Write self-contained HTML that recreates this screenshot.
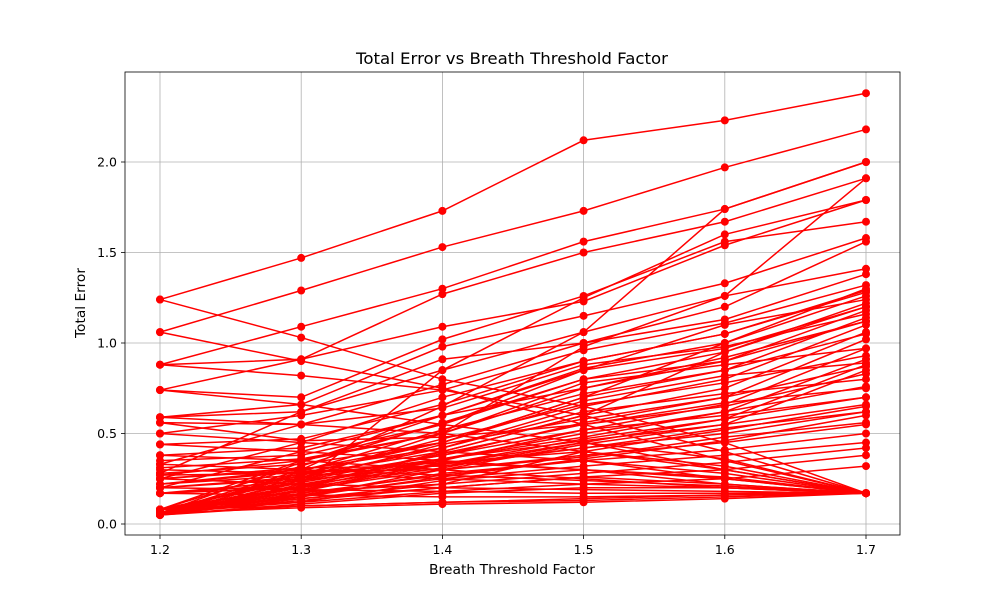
<!DOCTYPE html>
<html><head><meta charset="utf-8"><style>
body{margin:0;background:#fff;font-family:"DejaVu Sans","Liberation Sans",sans-serif;}
</style></head><body>
<svg id="chart" width="1000" height="600" xmlns="http://www.w3.org/2000/svg"></svg>
<script>
const categories=[1.2,1.3,1.4,1.5,1.6,1.7];
const xTickLabels=["1.2","1.3","1.4","1.5","1.6","1.7"];
const yTicks=[0,0.5,1,1.5,2];
const yTickLabels=["0.0","0.5","1.0","1.5","2.0"];
const s01=[1.24,1.47,1.73,2.12,2.23,2.38];
const s02=[1.06,1.29,1.53,1.73,1.97,2.18];
const s03=[0.88,1.09,1.30,1.56,1.74,2.00];
const s04=[0.88,0.91,1.27,1.50,1.67,1.91];
const s05=[0.74,0.91,1.09,1.23,1.54,1.79];
const s06=[1.24,1.03,0.80,0.65,0.45,0.17];
const s07=[1.06,0.90,0.75,0.55,0.35,0.17];
const s08=[0.74,0.70,1.02,1.26,1.56,1.67];
const s09=[0.59,0.66,0.98,1.15,1.33,1.58];
const s10=[0.59,0.62,0.85,1.06,1.26,1.41];
const s11=[0.56,0.55,0.77,1.00,1.13,1.38];
const s12=[0.50,0.60,0.74,0.96,1.11,1.32];
const s13=[0.44,0.47,0.66,0.90,1.05,1.29];
const s14=[0.38,0.42,0.60,0.86,1.00,1.26];
const s15=[0.35,0.38,0.55,0.80,0.95,1.22];
const s16=[0.31,0.36,0.50,0.75,0.90,1.18];
const s17=[0.28,0.33,0.45,0.70,0.85,1.14];
const s18=[0.25,0.30,0.42,0.65,0.80,1.10];
const s19=[0.22,0.27,0.40,0.60,0.75,1.06];
const s20=[0.20,0.25,0.38,0.56,0.70,1.02];
const s21=[0.17,0.22,0.35,0.52,0.66,0.97];
const s22=[0.08,0.20,0.36,0.50,0.62,0.91];
const s23=[0.06,0.18,0.33,0.47,0.58,0.88];
const s24=[0.05,0.15,0.30,0.44,0.55,0.85];
const s25=[0.08,0.25,0.50,0.98,1.26,1.91];
const s26=[0.06,0.30,0.65,1.06,1.74,2.00];
const s27=[0.05,0.22,0.85,1.25,1.60,1.79];
const s28=[0.88,0.82,0.74,0.60,0.40,0.17];
const s29=[0.74,0.66,0.55,0.45,0.30,0.17];
const s30=[0.59,0.55,0.50,0.40,0.30,0.17];
const s31=[0.50,0.45,0.40,0.35,0.25,0.17];
const s32=[0.44,0.40,0.35,0.30,0.22,0.17];
const s33=[0.08,0.10,0.12,0.13,0.15,0.17];
const s34=[0.06,0.09,0.11,0.12,0.14,0.17];
const s35=[0.05,0.10,0.12,0.14,0.16,0.17];
const s36=[0.08,0.12,0.18,0.22,0.25,0.32];
const s37=[0.06,0.13,0.20,0.26,0.30,0.38];
const s38=[0.05,0.14,0.22,0.28,0.34,0.42];
const s39=[0.08,0.16,0.25,0.32,0.38,0.45];
const s40=[0.06,0.17,0.27,0.35,0.41,0.50];
const s41=[0.05,0.19,0.30,0.38,0.45,0.55];
const s42=[0.08,0.21,0.33,0.42,0.50,0.62];
const s43=[0.06,0.23,0.36,0.46,0.55,0.66];
const s44=[0.05,0.24,0.38,0.52,0.60,0.70];
const s45=[0.30,0.28,0.25,0.22,0.20,0.17];
const s46=[0.25,0.22,0.20,0.19,0.18,0.17];
const s47=[0.20,0.19,0.18,0.17,0.17,0.17];
const s48=[0.17,0.20,0.40,0.60,0.95,1.20];
const s49=[0.22,0.30,0.45,0.70,1.00,1.30];
const s50=[0.27,0.35,0.55,0.85,1.10,1.24];
const s51=[0.33,0.55,0.64,0.88,0.98,1.16];
const s52=[0.20,0.40,0.60,0.75,0.92,1.12];
const s53=[0.25,0.45,0.70,0.90,1.05,1.28];
const s54=[0.08,0.35,0.50,0.78,0.88,0.97];
const s55=[0.06,0.28,0.45,0.68,0.82,0.89];
const s56=[0.05,0.26,0.42,0.62,0.72,0.80];
const s57=[0.28,0.62,0.91,1.00,1.20,1.56];
const s58=[0.56,0.46,0.48,0.55,0.65,0.83];
const s59=[0.38,0.35,0.30,0.25,0.20,0.17];
const s60=[0.17,0.16,0.15,0.15,0.16,0.17];
const s61=[0.08,0.14,0.20,0.26,0.22,0.17];
const s62=[0.06,0.12,0.24,0.30,0.25,0.17];
const s63=[0.05,0.16,0.28,0.35,0.28,0.17];
const s64=[0.08,0.18,0.22,0.40,0.32,0.17];
const s65=[0.06,0.20,0.31,0.45,0.36,0.17];
const s66=[0.05,0.11,0.17,0.20,0.20,0.17];
const s67=[0.08,0.15,0.26,0.36,0.46,0.60];
const s68=[0.06,0.19,0.34,0.40,0.52,0.65];
const s69=[0.05,0.21,0.39,0.55,0.67,0.75];
const s70=[0.08,0.24,0.44,0.58,0.70,0.87];
const s71=[0.06,0.27,0.47,0.66,0.78,0.93];
const s72=[0.05,0.29,0.52,0.72,0.85,1.05];
const s73=[0.08,0.32,0.56,0.80,0.90,1.12];
const s74=[0.06,0.34,0.60,0.85,0.97,1.20];
const s75=[0.17,0.24,0.33,0.45,0.58,0.70];
const s76=[0.20,0.26,0.36,0.48,0.62,0.76];
const s77=[0.22,0.29,0.30,0.37,0.48,0.56];
const s78=[0.25,0.31,0.32,0.42,0.53,0.62];
const s79=[0.27,0.28,0.34,0.30,0.26,0.17];
const s80=[0.33,0.30,0.27,0.24,0.21,0.17];
const series=[s01,s02,s03,s04,s05,s06,s07,s08,s09,s10,s11,s12,s13,s14,s15,s16,s17,s18,s19,s20,s21,s22,s23,s24,s25,s26,s27,s28,s29,s30,s31,s32,s33,s34,s35,s36,s37,s38,s39,s40,s41,s42,s43,s44,s45,s46,s47,s48,s49,s50,s51,s52,s53,s54,s55,s56,s57,s58,s59,s60,s61,s62,s63,s64,s65,s66,s67,s68,s69,s70,s71,s72,s73,s74,s75,s76,s77,s78,s79,s80];

const NS="http://www.w3.org/2000/svg";
const svg=document.getElementById('chart');
const L=125,R=900,T=72,B=535;
function x(v){return 160+(v-1.2)/0.5*(866-160);}
function y(v){return 524-v*181;}
function mk(tag,attrs,parent){const e=document.createElementNS(NS,tag);for(const k in attrs)e.setAttribute(k,attrs[k]);(parent||svg).appendChild(e);return e;}

const grid=mk('g',{});


categories.forEach((c,i)=>{
  const l=mk('line',{x1:x(c),x2:x(c),y1:T,y2:B,stroke:'#b0b0b0','stroke-width':0.8},grid);
  
  
  const tk=mk('line',{x1:x(c),x2:x(c),y1:B,y2:B+4,stroke:'#000','stroke-width':0.8});
  
  
  const t=mk('text',{x:x(c),y:B+19,'text-anchor':'middle','font-size':12.5,fill:'#000'});
  t.textContent=xTickLabels[i];
  
  
});
yTicks.forEach((v,i)=>{
  const l=mk('line',{x1:L,x2:R,y1:y(v),y2:y(v),stroke:'#b0b0b0','stroke-width':0.8},grid);
  
  
  const tk=mk('line',{x1:L-4,x2:L,y1:y(v),y2:y(v),stroke:'#000','stroke-width':0.8});
  
  
  const t=mk('text',{x:L-8,y:y(v)+4.5,'text-anchor':'end','font-size':12.5,fill:'#000'});
  t.textContent=yTickLabels[i];
  
  
});

const lines=mk('g',{});


series.forEach((s)=>{
  const p=mk('polyline',{points:s.map((v,i)=>x(categories[i])+','+y(v)).join(' '),fill:'none',stroke:'#ff0000','stroke-width':1.5},lines);
  
  
  s.forEach((v,i)=>{
    const c=mk('circle',{cx:x(categories[i]),cy:y(v),r:4,fill:'#ff0000'},lines);
    
    
  });
});

const frame=mk('rect',{x:L,y:T,width:R-L,height:B-T,fill:'none',stroke:'#000','stroke-width':0.8});



const title=mk('text',{x:512,y:64,'text-anchor':'middle','font-size':16,fill:'#000',textLength:312,lengthAdjust:'spacingAndGlyphs'});
title.textContent='Total Error vs Breath Threshold Factor';


const xt=mk('text',{x:512,y:574,'text-anchor':'middle','font-size':13,fill:'#000',textLength:166,lengthAdjust:'spacingAndGlyphs'});
xt.textContent='Breath Threshold Factor';


const yt=mk('text',{x:85,y:303,'text-anchor':'middle','font-size':13,fill:'#000',transform:'rotate(-90 85 303)',textLength:70,lengthAdjust:'spacingAndGlyphs'});
yt.textContent='Total Error';


</script>
</body></html>
